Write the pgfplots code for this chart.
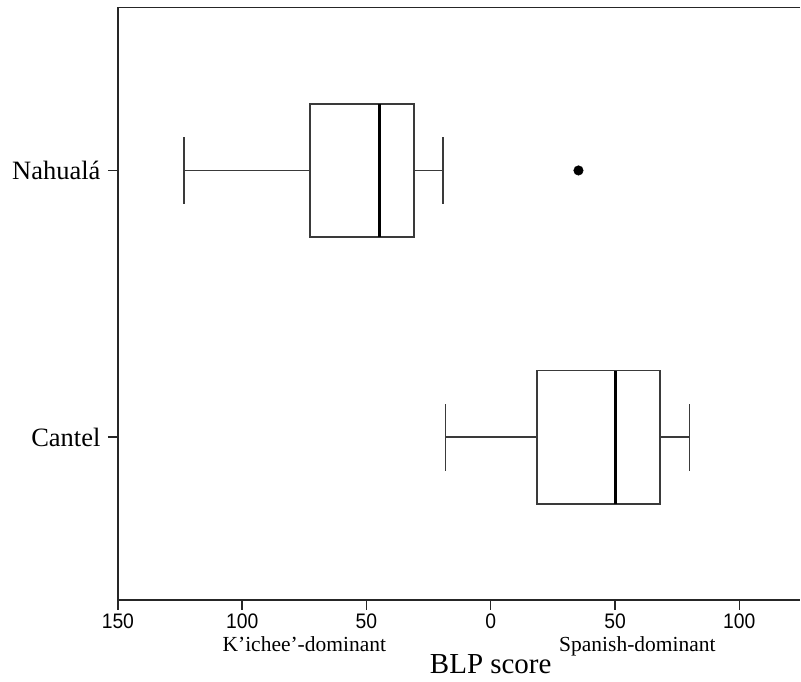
\documentclass[border=0pt]{standalone}
\usepackage{fontspec}
\setmainfont{Liberation Serif}
\newfontfamily\narrowsans[FakeStretch=0.92]{Liberation Sans}
\usepackage{pgfplots}
\pgfplotsset{compat=1.18}
\usepgfplotslibrary{statistics}

\definecolor{boxline}{HTML}{3A3A3A}

\begin{document}
\begin{tikzpicture}
\begin{axis}[
  at={(0,0)}, anchor=south west,
  scale only axis,
  width=683pt, height=593pt,
  xmin=-150, xmax=124.5,
  ymin=0.39, ymax=2.611,
  axis line style={draw=none},
  xtick={-150,-100,-50,0,50,100},
  xticklabels={150,100,50,0,50,100},
  ytick={1,2},
  yticklabels={Cantel,Nahual\'a},
  every tick/.style={black!85, line width=1.5pt},
  tick align=outside,
  xtick pos=bottom, ytick pos=left,
  major tick length=10pt,
  xticklabel style={font=\narrowsans\fontsize{21}{21}\selectfont, yshift=0pt},
  yticklabel style={font=\fontsize{26.5}{26.5}\selectfont, xshift=-4pt},
  clip=false,
  boxplot/draw direction=x,
  boxplot/box extend=0.5,
  boxplot/whisker extend=0.25,
]
% frame: left, top and bottom edges
\draw[line width=1.6pt, black!85] (rel axis cs:1,1) -- (rel axis cs:0,1) -- (rel axis cs:0,0) -- (rel axis cs:1,0);

% Nahuala
\addplot[boxline, line width=1.6pt,
  boxplot prepared={
    draw position=2,
    lower whisker=-123.5, lower quartile=-72.8,
    median=-44.7,
    upper quartile=-30.9, upper whisker=-19.1,
    every median/.style={black, line width=2.8pt},
  }] coordinates {};
% Cantel
\addplot[boxline, line width=1.6pt,
  boxplot prepared={
    draw position=1,
    lower whisker=-18.2, lower quartile=18.5,
    median=50.2,
    upper quartile=68.0, upper whisker=80.0,
    every median/.style={black, line width=2.8pt},
  }] coordinates {};
% outlier
\addplot[only marks, mark=*, mark size=4.8pt, black] coordinates {(35.3,2)};

\node[anchor=base, font=\fontsize{21.5}{21.5}\selectfont] at ([yshift=-52pt]axis cs:-75,0.39) {K’ichee’-dominant};
\node[anchor=base, font=\fontsize{21.5}{21.5}\selectfont] at ([yshift=-52pt]axis cs:59,0.39) {Spanish-dominant};
\node[anchor=base, font=\fontsize{29}{29}\selectfont] at ([yshift=-74pt]axis cs:0,0.39) {BLP score};
\end{axis}
\path[use as bounding box] (-118pt,-81.5pt) rectangle (683pt,600.5pt);
\end{tikzpicture}
\end{document}
